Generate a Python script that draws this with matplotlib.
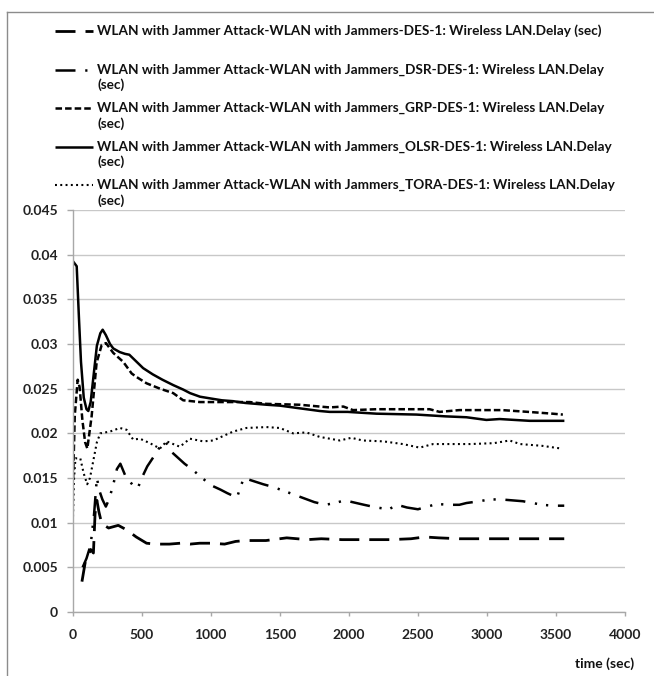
import matplotlib
matplotlib.use('Agg')
import matplotlib.pyplot as plt
from matplotlib.lines import Line2D

plt.rcParams['font.family'] = ['Lato', 'DejaVu Sans']
plt.rcParams['font.weight'] = 'bold'
plt.rcParams['lines.scale_dashes'] = False

# delay curves (time in sec, delay in sec)
des_x = [67, 90, 110, 130, 150, 162, 175, 190, 210, 260, 330, 390, 460, 535, 600,
         700, 780, 850, 920, 1000, 1100, 1180, 1250, 1400, 1550, 1700, 1800, 1950,
         2100, 2300, 2450, 2550, 2650, 2800, 3000, 3200, 3400, 3560]
des_y = [0.0034, 0.0055, 0.0062, 0.0070, 0.0066, 0.0110, 0.0125, 0.0112, 0.0099,
         0.0094, 0.0097, 0.0092, 0.0084, 0.0077, 0.0076, 0.0076, 0.0077, 0.0076,
         0.0077, 0.0077, 0.0076, 0.0079, 0.0080, 0.0080, 0.0083, 0.0081, 0.0082,
         0.0081, 0.0081, 0.0081, 0.0082, 0.0084, 0.0083, 0.0082, 0.0082, 0.0082,
         0.0082, 0.0082]

dsr_x = [72, 100, 130, 155, 175, 195, 215, 240, 260, 290, 320, 345, 380, 450, 475,
         500, 540, 600, 640, 675, 710, 810, 870, 930, 1000, 1070, 1120, 1190, 1215,
         1240, 1380, 1450, 1540, 1610, 1750, 1830, 1900, 1970, 2110, 2200, 2290,
         2350, 2420, 2500, 2570, 2640, 2715, 2800, 2852, 2946, 3018, 3103, 3260,
         3330, 3402, 3475, 3560]
dsr_y = [0.0050, 0.0060, 0.0075, 0.0110, 0.0150, 0.0135, 0.0126, 0.0118, 0.0125,
         0.0140, 0.0160, 0.0166, 0.0153, 0.0139, 0.0140, 0.0150, 0.0163, 0.0177,
         0.0187, 0.0190, 0.0180, 0.0166, 0.0159, 0.0151, 0.0142, 0.0137, 0.0133,
         0.0128, 0.0140, 0.0150, 0.0143, 0.0140, 0.0135, 0.0131, 0.0123, 0.0120,
         0.0122, 0.0125, 0.0120, 0.0117, 0.0115, 0.0120, 0.0117, 0.0115, 0.0118,
         0.0121, 0.0120, 0.0120, 0.0122, 0.0124, 0.0126, 0.0126, 0.0124, 0.0122,
         0.0120, 0.0119, 0.0119]

grp_x = [3, 15, 36, 50, 70, 90, 106, 137, 173, 210, 241, 294, 366, 427, 463, 535,
         632, 728, 800, 921, 1000, 1114, 1282, 1403, 1644, 1861, 1960, 2030, 2200,
         2400, 2585, 2657, 2800, 3000, 3110, 3300, 3475, 3550]
grp_y = [0.0148, 0.0220, 0.0260, 0.0252, 0.0215, 0.0190, 0.0183, 0.0219, 0.0279,
         0.0299, 0.0301, 0.0290, 0.0280, 0.0267, 0.0263, 0.0256, 0.0250, 0.0245,
         0.0237, 0.0235, 0.0235, 0.0235, 0.0235, 0.0233, 0.0232, 0.0229, 0.0230,
         0.0226, 0.0227, 0.0227, 0.0227, 0.0224, 0.0226, 0.0226, 0.0226, 0.0224,
         0.0222, 0.0221]

olsr_x = [0, 29, 45, 60, 80, 100, 113, 130, 150, 175, 200, 217, 240, 270, 294, 340,
          378, 410, 450, 510, 580, 650, 728, 800, 850, 922, 1000, 1080, 1162, 1250,
          1405, 1500, 1644, 1789, 1861, 1991, 2200, 2490, 2700, 2852, 2996, 3092,
          3200, 3309, 3561]
olsr_y = [0.0393, 0.0387, 0.0330, 0.0280, 0.0240, 0.0227, 0.0225, 0.0235, 0.0263,
          0.0298, 0.0312, 0.0316, 0.0310, 0.0300, 0.0295, 0.0291, 0.0289, 0.0288,
          0.0282, 0.0273, 0.0266, 0.0260, 0.0254, 0.0249, 0.0245, 0.0241, 0.0239,
          0.0237, 0.0236, 0.0234, 0.0232, 0.0231, 0.0228, 0.0225, 0.0224, 0.0224,
          0.0222, 0.0221, 0.0219, 0.0218, 0.0215, 0.0216, 0.0215, 0.0214, 0.0214]

tora_x = [0, 10, 20, 55, 80, 105, 125, 150, 175, 200, 270, 342, 390, 438, 487, 559,
          632, 680, 776, 849, 945, 1018, 1162, 1258, 1403, 1500, 1596, 1692, 1789,
          1934, 2018, 2100, 2250, 2390, 2513, 2610, 2750, 2880, 3050, 3164, 3240,
          3400, 3537]
tora_y = [0.0095, 0.0150, 0.0172, 0.0172, 0.0155, 0.0143, 0.0150, 0.0170, 0.0190,
          0.0200, 0.0202, 0.0206, 0.0204, 0.0193, 0.0194, 0.0189, 0.0183, 0.0191,
          0.0185, 0.0194, 0.0191, 0.0192, 0.0202, 0.0206, 0.0207, 0.0206, 0.0200,
          0.0201, 0.0196, 0.0192, 0.0195, 0.0192, 0.0191, 0.0188, 0.0184, 0.0188,
          0.0188, 0.0188, 0.0189, 0.0192, 0.0188, 0.0186, 0.0183]

labels = [
    'WLAN with Jammer Attack-WLAN with Jammers-DES-1: Wireless LAN.Delay (sec)',
    'WLAN with Jammer Attack-WLAN with Jammers_DSR-DES-1: Wireless LAN.Delay\n(sec)',
    'WLAN with Jammer Attack-WLAN with Jammers_GRP-DES-1: Wireless LAN.Delay\n(sec)',
    'WLAN with Jammer Attack-WLAN with Jammers_OLSR-DES-1: Wireless LAN.Delay\n(sec)',
    'WLAN with Jammer Attack-WLAN with Jammers_TORA-DES-1: Wireless LAN.Delay\n(sec)',
]

series = [(des_x, des_y), (dsr_x, dsr_y), (grp_x, grp_y), (olsr_x, olsr_y), (tora_x, tora_y)]
styles = [
    dict(lw=2.0, ls=(0, (14.4, 7.2))),
    dict(lw=1.8, ls=(0, (14.4, 7, 1.6, 6.5, 1.6, 7))),
    dict(lw=1.8, ls=(0, (4.7, 2.2))),
    dict(lw=1.8, ls='-'),
    dict(lw=1.5, ls=(0, (1.4, 2.4))),
]

W, H = 654, 676
fig = plt.figure(figsize=(W / 100, H / 100), dpi=100)

# page layer in pixel coordinates for frame, legend and axis title
page = fig.add_axes([0, 0, 1, 1], zorder=0)
page.set_xlim(0, W)
page.set_ylim(H, 0)
page.axis('off')
page.plot([7, W], [12, 12], color='#8c8c8c', lw=1.0)
page.plot([7, 7], [12, H], color='#8c8c8c', lw=1.0)

ax = fig.add_axes([72.7 / W, (H - 612) / H, (625 - 72.7) / W, 402 / H], zorder=1)
ax.set_facecolor('none')

for (xs, ys), st in zip(series, styles):
    ax.plot(xs, ys, color='black', lw=st['lw'], linestyle=st['ls'],
            solid_capstyle='butt', dash_capstyle='butt')

ax.set_xlim(0, 4000)
ax.set_ylim(0, 0.045)
ax.set_xticks(range(0, 4001, 500))
ax.set_yticks([i * 0.005 for i in range(10)])
ax.set_yticklabels(['0', '0.005', '0.01', '0.015', '0.02', '0.025', '0.03',
                    '0.035', '0.04', '0.045'])
ax.grid(axis='y', color='#c8c8c8', lw=1.0)
ax.set_axisbelow(True)
for s in ['top', 'right']:
    ax.spines[s].set_visible(False)
for s in ['left', 'bottom']:
    ax.spines[s].set_color('#a8a8a8')
    ax.spines[s].set_linewidth(1.0)
ax.tick_params(axis='both', colors='#a8a8a8', labelcolor='#222222', labelsize=10,
               width=1.0)
ax.tick_params(axis='y', length=4.3, pad=6.3)
ax.tick_params(axis='x', length=3, pad=9)

# legend block
for i, (lab, st) in enumerate(zip(labels, styles)):
    y = 31 + 38.5 * i
    page.add_line(Line2D([55, 93], [y, y], color='black', lw=st['lw'],
                         linestyle=st['ls'], solid_capstyle='butt',
                         dash_capstyle='butt'))
    parts = lab.split('\n')
    page.text(97, y, parts[0], fontsize=9.8, va='center', ha='left', color='#111111')
    if len(parts) > 1:
        page.text(97, y + 15.5, parts[1], fontsize=9.8, va='center', ha='left',
                  color='#111111')

page.text(605, 664, 'time (sec)', fontsize=10, va='center', ha='center',
          color='#111111')

fig.savefig('out.png', dpi=100)
